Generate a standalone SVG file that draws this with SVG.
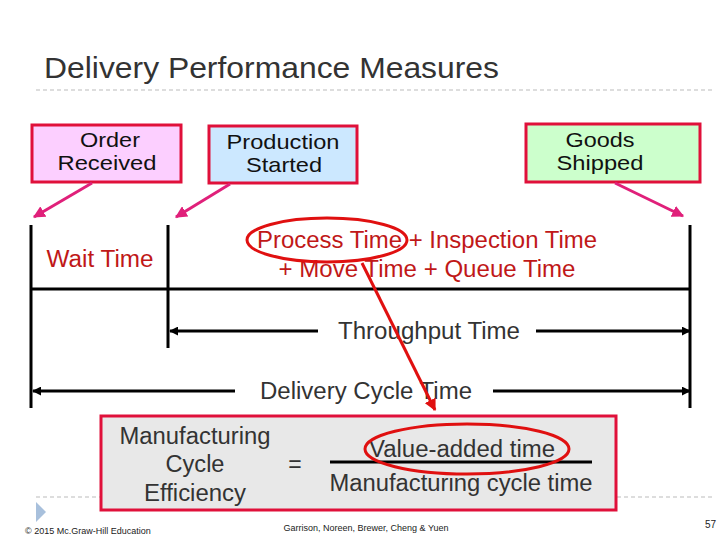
<svg xmlns="http://www.w3.org/2000/svg" width="720" height="540" viewBox="0 0 720 540">
<defs>
<style>
text{font-family:"Liberation Sans",Arial,sans-serif}
.box{stroke:#e0103a;stroke-width:3}
.bl{font-size:21px;fill:#111;text-anchor:middle}
.red{font-size:23px;fill:#c01818;text-anchor:middle}
.gr{font-size:23px;fill:#333;text-anchor:middle}
.k{stroke:#000;stroke-width:3;fill:none}
.pk{stroke:#e0207a;stroke-width:3;fill:none}
</style>
<marker id="pa" viewBox="0 0 10 10" refX="9" refY="5" markerWidth="4" markerHeight="4" orient="auto"><path d="M0,0L10,5L0,10z" fill="#e0207a"/></marker>
<marker id="ka" viewBox="0 0 10 10" refX="9" refY="5" markerWidth="3" markerHeight="3" orient="auto-start-reverse"><path d="M0,0L10,5L0,10z" fill="#000"/></marker>
<marker id="ra" viewBox="0 0 10 10" refX="9" refY="5" markerWidth="4" markerHeight="4" orient="auto"><path d="M0,0L10,5L0,10z" fill="#e01010"/></marker>
</defs>
<rect width="720" height="540" fill="#fff"/>
<text x="44" y="78" font-size="29" fill="#333" textLength="455" lengthAdjust="spacingAndGlyphs">Delivery Performance Measures</text>
<line x1="36" y1="90" x2="712" y2="90" stroke="#bbb" stroke-dasharray="4,3"/>
<line x1="36" y1="497" x2="712" y2="497" stroke="#bbb" stroke-dasharray="4,3"/>
<g id="order"><rect class="box" x="32" y="125" width="149" height="57" fill="#fccfff"/><text class="bl" x="110" y="147" textLength="60" lengthAdjust="spacingAndGlyphs">Order</text><text class="bl" x="107" y="170" textLength="99" lengthAdjust="spacingAndGlyphs">Received</text></g>
<g id="production"><rect class="box" x="209" y="126" width="148" height="57" fill="#cce8ff"/><text class="bl" x="283" y="149" textLength="113" lengthAdjust="spacingAndGlyphs">Production</text><text class="bl" x="284" y="172" textLength="76" lengthAdjust="spacingAndGlyphs">Started</text></g>
<g id="goods"><rect class="box" x="526" y="124" width="174" height="58" fill="#ccffcc"/><text class="bl" x="600" y="147" textLength="69" lengthAdjust="spacingAndGlyphs">Goods</text><text class="bl" x="600" y="170" textLength="87" lengthAdjust="spacingAndGlyphs">Shipped</text></g>
<g id="timeline">
<line class="k" x1="31" y1="225" x2="31" y2="408"/>
<line class="k" x1="168" y1="225" x2="168" y2="348"/>
<line class="k" x1="690" y1="225" x2="690" y2="408"/>
<line class="k" x1="31" y1="289" x2="690" y2="289"/>
<text class="red" x="100" y="267" textLength="107" lengthAdjust="spacingAndGlyphs">Wait Time</text>
<text class="red" x="427" y="248" textLength="340" lengthAdjust="spacingAndGlyphs">Process Time + Inspection Time</text>
<text class="red" x="427" y="277" textLength="297" lengthAdjust="spacingAndGlyphs">+ Move Time + Queue Time</text>
</g>
<g id="connectors">
<line class="pk" x1="92" y1="183" x2="34" y2="217" marker-end="url(#pa)"/>
<line class="pk" x1="230" y1="184" x2="176" y2="217" marker-end="url(#pa)"/>
<line class="pk" x1="615" y1="183" x2="683" y2="216" marker-end="url(#pa)"/>
<line class="k" x1="170" y1="331" x2="318" y2="331" marker-start="url(#ka)"/>
<line class="k" x1="536" y1="331" x2="690" y2="331" marker-end="url(#ka)"/>
<line class="k" x1="33" y1="391" x2="235" y2="391" marker-start="url(#ka)"/>
<line class="k" x1="493" y1="391" x2="690" y2="391" marker-end="url(#ka)"/>
<text class="gr" x="429" y="339" textLength="182" lengthAdjust="spacingAndGlyphs">Throughput Time</text>
<text class="gr" x="366" y="399" textLength="212" lengthAdjust="spacingAndGlyphs">Delivery Cycle Time</text>
</g>
<g id="mce">
<rect class="box" x="101" y="416" width="515" height="94" fill="#e8e8e8"/>
<text class="gr" x="195" y="444" textLength="151" lengthAdjust="spacingAndGlyphs">Manufacturing</text>
<text class="gr" x="195" y="472" textLength="59" lengthAdjust="spacingAndGlyphs">Cycle</text>
<text class="gr" x="195" y="501" textLength="102" lengthAdjust="spacingAndGlyphs">Efficiency</text>
<text class="gr" x="295" y="472">=</text>
<text class="gr" x="462" y="457" textLength="186" lengthAdjust="spacingAndGlyphs">Value-added time</text>
<line x1="330" y1="462" x2="592" y2="462" stroke="#000" stroke-width="3"/>
<text class="gr" x="461" y="491" textLength="263" lengthAdjust="spacingAndGlyphs">Manufacturing cycle time</text>
</g>
<g id="highlight">
<ellipse cx="327" cy="240" rx="80" ry="22" fill="none" stroke="#e01010" stroke-width="3"/>
<line x1="362" y1="263" x2="435" y2="410" stroke="#e01010" stroke-width="3" marker-end="url(#ra)"/>
<ellipse cx="467" cy="449" rx="102" ry="25" fill="none" stroke="#e01010" stroke-width="3"/>
</g>
<path d="M36,502L46,512L36,522z" fill="#a8c0dc"/>
<text x="25" y="534" font-size="9" fill="#222">© 2015 Mc.Graw-Hill Education</text>
<text x="366" y="531" font-size="9" fill="#222" text-anchor="middle">Garrison, Noreen, Brewer, Cheng &amp; Yuen</text>
<text x="705" y="528" font-size="10" fill="#222">57</text>
</svg>
